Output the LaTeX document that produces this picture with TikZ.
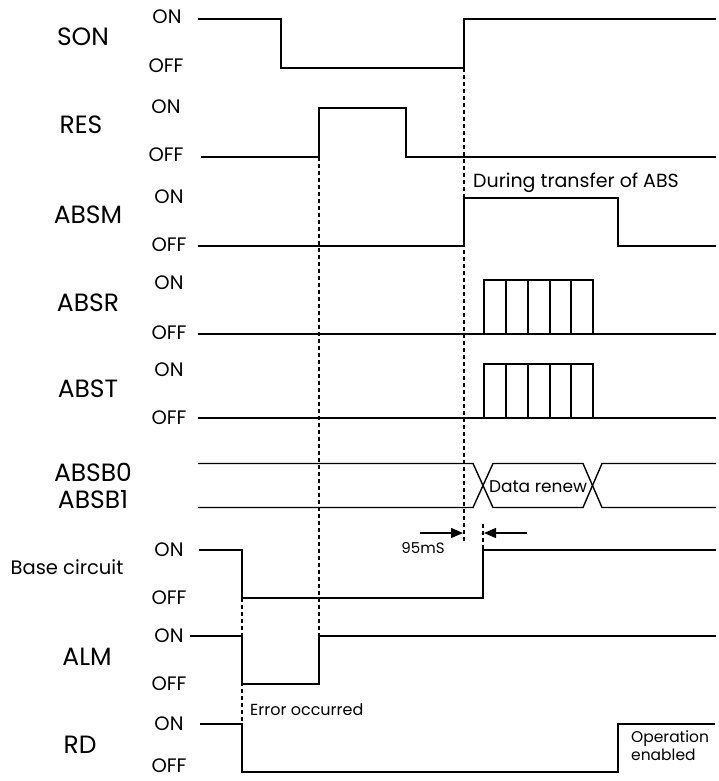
\documentclass[tikz,border=0pt]{standalone}
\usepackage{fontspec}
\setmainfont{Poppins}
\usepackage{tikz}
\usetikzlibrary{arrows.meta}

\begin{document}
\begin{tikzpicture}[x=1pt, y=-1pt,
    every node/.style={inner sep=1pt},
    wave/.style={line width=1.4pt, line join=miter},
    guide/.style={line width=1.1pt, dash pattern=on 4pt off 3pt},
    signame/.style={font=\fontsize{25}{27}\selectfont},
    level/.style={font=\fontsize{19.5}{21}\selectfont},
    note/.style={font=\fontsize{16}{19}\selectfont}]
      \useasboundingbox (0,0) rectangle (718,781);
      % signal names
      \node[signame] (son) at (83,37) {SON};
      \node[signame] (res) at (81,125) {RES};
      \node[signame] (absm) at (88,215) {ABSM};
      \node[signame] (absr) at (88,303) {ABSR};
      \node[signame] (abst) at (88,389) {ABST};
      \node[signame] (absbz) at (93,472) {ABSB0};
      \node[signame] (absbo) at (93,500) {ABSB1};
      \node[level] (base) at (67,567) {Base circuit};
      \node[signame] (alm) at (87,657) {ALM};
      \node[signame] (rd) at (80,745) {RD};
      % levels
      \node[level] (sonon) at (167,17) {ON};
      \node[level] (sonoff) at (166,66) {OFF};
      \node[level] (reson) at (166,107) {ON};
      \node[level] (resoff) at (166,155) {OFF};
      \node[level] (absmon) at (169,197) {ON};
      \node[level] (absmoff) at (169,245) {OFF};
      \node[level] (absron) at (169,283) {ON};
      \node[level] (absroff) at (169,333) {OFF};
      \node[level] (abston) at (169,370) {ON};
      \node[level] (abstoff) at (169,418) {OFF};
      \node[level] (baseon) at (169,550) {ON};
      \node[level] (baseoff) at (169,598) {OFF};
      \node[level] (almon) at (169,636) {ON};
      \node[level] (almoff) at (169,684) {OFF};
      \node[level] (rdon) at (169,724) {ON};
      \node[level, inner sep=0pt] (rdoff) at (169,766) {OFF};
      % SON
      \draw[wave] (198,19) -- (281,19) -- (281,68) -- (464,68) -- (464,19) -- (716,19);
      % RES
      \draw[wave] (201,157) -- (319,157) -- (319,108) -- (406,108) -- (406,157) -- (716,157);
      % ABSM
      \draw[wave] (198,246) -- (464,246) -- (464,198) -- (618,198) -- (618,246) -- (716,246);
      \node[note, font=\fontsize{19}{21}\selectfont, anchor=west] (transfer) at (472,183) {During transfer of ABS};
      % ABSR and ABST pulses
      \draw[wave] (198,334) -- (716,334);
      \draw[wave] (198,418) -- (716,418);
      \draw[wave, line width=1.1pt] (484,334) rectangle (593,280);
      \draw[wave, line width=1.1pt] (484,418) rectangle (593,364);
      \foreach \x in {506,528,550,571} {
        \draw[line width=1.1pt] (\x,280) -- (\x,334);
        \draw[line width=1.1pt] (\x,364) -- (\x,418);
      }
      % ABSB0 / ABSB1
      \draw[wave] (198,463.5) -- (473,463.5) -- (493,507.5) -- (583,507.5) -- (602,463.5) -- (716,463.5);
      \draw[wave] (198,507.5) -- (473,507.5) -- (493,463.5) -- (583,463.5) -- (602,507.5) -- (716,507.5);
      \node[note, font=\fontsize{17}{19}\selectfont] (renew) at (538,487) {Data renew};
      % base circuit
      \draw[wave] (199,550) -- (242,550) -- (242,598) -- (483,598) -- (483,550) -- (716,550);
      % ALM
      \draw[wave] (190,636) -- (242,636) -- (242,684) -- (319,684) -- (319,636) -- (716,636);
      % RD
      \draw[wave] (200,724) -- (242,724) -- (242,772) -- (618,772) -- (618,724) -- (715,724);
      % guides
      \draw[guide] (319,157) -- (319,636);
      \draw[guide] (464,68) -- (464,542);
      \draw[guide] (483,524) -- (483,550);
      \draw[guide] (242,598) -- (242,724);
      % 95 mS
      \coordinate (dl) at (420,533);
      \coordinate (dr) at (527,533);
      \draw[line width=1.4pt, -{Triangle[length=12pt, width=10pt]}] (dl) -- (463,533);
      \draw[line width=1.4pt, -{Triangle[length=12pt, width=10pt]}] (dr) -- (484,533);
      \node[note, font=\fontsize{15}{17}\selectfont] (delay) at (423,548) {95mS};
      % notes
      \node[note, anchor=west] (error) at (249,710) {Error occurred};
      \node[note, anchor=west, align=left, font=\fontsize{15.5}{18}\selectfont] (enabled) at (630,746) {Operation\\enabled};
    \end{tikzpicture}
\end{document}
